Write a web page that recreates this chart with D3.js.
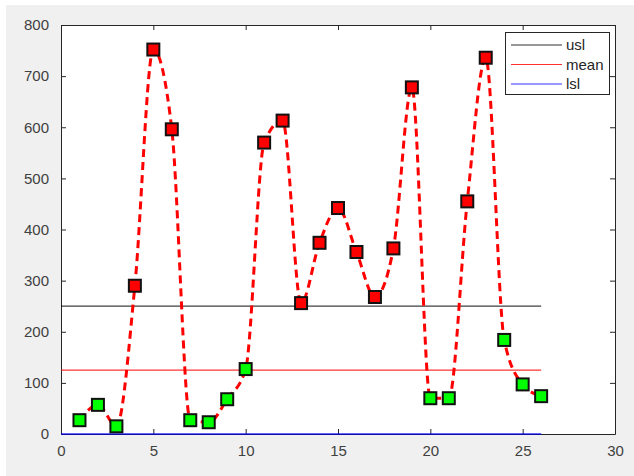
<!DOCTYPE html>
<html>
<head>
<meta charset="utf-8">
<script src="https://cdn.jsdelivr.net/npm/d3@7"></script>
<style>
  html, body { margin: 0; padding: 0; background: #ffffff; }
  svg { display: block; }
</style>
</head>
<body>
<svg id="chart" width="634" height="476"></svg>
<script>
// ---- data ----
const samples = [1, 2, 3, 4, 5, 6, 7, 8, 9, 10, 11, 12, 13, 14, 15, 16, 17, 18, 19, 20, 21, 22, 23, 24, 25, 26];
const values  = [27, 57, 15, 290, 752, 596, 27, 23, 68, 127, 570, 613, 256, 374, 442, 356, 268, 363, 678, 70, 70, 455, 736, 184, 97, 74];
const limitNames  = ["usl", "mean", "lsl"];
const limitValues = [250, 125, 0];
const limitColors = ["#000000", "#ff0000", "#0000ff"];
const xTicks = [0, 5, 10, 15, 20, 25, 30];
const yTicks = [0, 100, 200, 300, 400, 500, 600, 700, 800];

// ---- layout ----
const W = 634, H = 476;
const L = 61, R = 615, T = 25, B = 434;
const svg = d3.select("#chart");
const font = "'Liberation Sans', Arial, Helvetica, sans-serif";

// figure background
svg.append("rect").attr("x", 6).attr("y", 5).attr("width", W - 6).attr("height", H - 5).attr("fill", "#f0f0f0");
svg.append("rect").attr("x", L).attr("y", T).attr("width", R - L).attr("height", B - T).attr("fill", "#ffffff");

const x = d3.scaleLinear().domain([0, 30]).range([L, R]);
const y = d3.scaleLinear().domain([0, 800]).range([B, T]);

// axes (ticks point inward, as in MATLAB)
const tickColor = "#262626";
function styleAxis(g) {
  g.selectAll("path.domain").attr("stroke", tickColor).attr("stroke-width", 1);
  g.selectAll(".tick line").attr("stroke", tickColor);
  g.selectAll(".tick text").attr("fill", "#404040").attr("font-family", font).attr("font-size", 15);
}
const xb = svg.append("g").attr("transform", `translate(0,${B})`)
  .call(d3.axisBottom(x).tickValues(xTicks).tickSizeInner(-5).tickSizeOuter(0).tickPadding(11));
styleAxis(xb);
const xt = svg.append("g").attr("transform", `translate(0,${T})`)
  .call(d3.axisTop(x).tickValues(xTicks).tickSizeInner(-5).tickSizeOuter(0).tickFormat(""));
styleAxis(xt);
const yl = svg.append("g").attr("transform", `translate(${L},0)`)
  .call(d3.axisLeft(y).tickValues(yTicks).tickSizeInner(-5).tickSizeOuter(0).tickPadding(12));
styleAxis(yl);
const yr = svg.append("g").attr("transform", `translate(${R},0)`)
  .call(d3.axisRight(y).tickValues(yTicks).tickSizeInner(-5).tickSizeOuter(0).tickFormat(""));
styleAxis(yr);

// limit lines
const xFirst = 0, xLast = samples[samples.length - 1];
limitValues.forEach((v, i) => {
  svg.append("line")
    .attr("x1", x(xFirst)).attr("x2", x(xLast))
    .attr("y1", y(v)).attr("y2", y(v))
    .attr("stroke", limitColors[i]).attr("stroke-width", i === 2 ? 1.6 : 1.2)
    .attr("opacity", i === 0 ? 0.75 : 0.8);
});

// smooth dashed curve
const pts = samples.map((s, i) => [s, values[i]]);
const line = d3.line().x(d => x(d[0])).y(d => y(d[1])).curve(d3.curveMonotoneX);
svg.append("path").datum(pts)
  .attr("d", line)
  .attr("fill", "none")
  .attr("stroke", "#ff0000")
  .attr("stroke-width", 3)
  .attr("stroke-dasharray", "8,5");

// markers
const ms = 12;
svg.append("g").selectAll("rect").data(pts).join("rect")
  .attr("x", d => x(d[0]) - ms / 2)
  .attr("y", d => y(d[1]) - ms / 2)
  .attr("width", ms).attr("height", ms)
  .attr("fill", d => d[1] > limitValues[0] ? "#ff0000" : "#00ff00")
  .attr("stroke", "#111111").attr("stroke-width", 2);

// legend
const lg = svg.append("g");
lg.append("rect").attr("x", 505.5).attr("y", 32.5).attr("width", 104).attr("height", 62)
  .attr("fill", "#ffffff").attr("stroke", "#262626").attr("stroke-width", 1);
const rowY = [45, 64.5, 84];
limitNames.forEach((n, i) => {
  lg.append("line").attr("x1", 511).attr("x2", 562).attr("y1", rowY[i]).attr("y2", rowY[i])
    .attr("stroke", limitColors[i]).attr("stroke-width", 1.2).attr("opacity", 0.8);
  lg.append("text").attr("x", 566).attr("y", rowY[i]).attr("dy", "0.35em")
    .attr("font-family", font).attr("font-size", 15).attr("fill", "#262626").text(n);
});
</script>
</body>
</html>
